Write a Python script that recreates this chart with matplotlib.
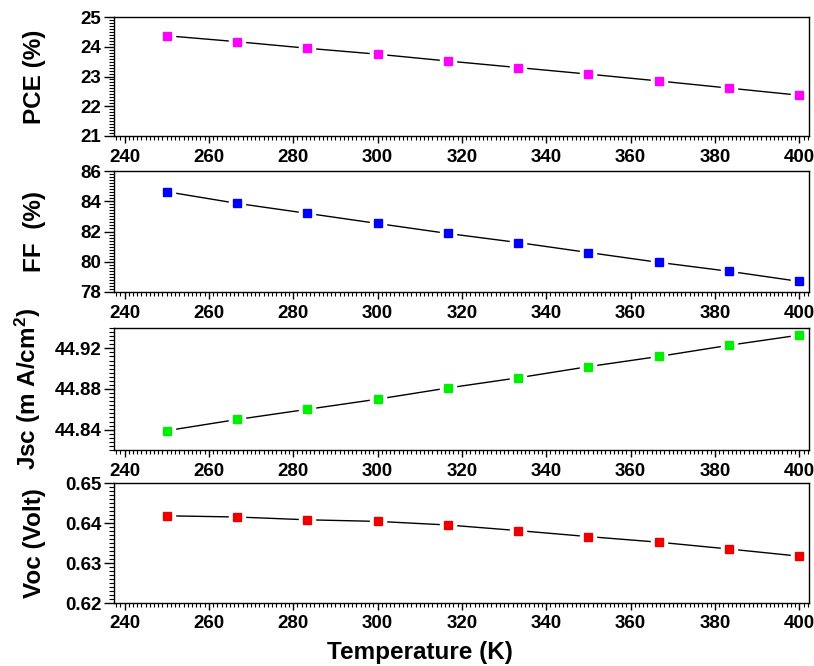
import matplotlib
matplotlib.use("Agg")
import matplotlib.pyplot as plt
from matplotlib.ticker import MultipleLocator, FormatStrFormatter, FixedLocator

plt.rcParams['font.family'] = ['Liberation Sans', 'DejaVu Sans']
plt.rcParams['font.weight'] = 'bold'
plt.rcParams['mathtext.fontset'] = 'custom'
plt.rcParams['mathtext.rm'] = 'Liberation Sans:bold'
plt.rcParams['mathtext.bf'] = 'Liberation Sans:bold'
plt.rcParams['mathtext.it'] = 'Liberation Sans:bold'

# ---- data ----
temperature = [250, 266.67, 283.33, 300, 316.67, 333.33, 350, 366.67, 383.33, 400]
pce = [24.37, 24.17, 23.95, 23.75, 23.52, 23.30, 23.08, 22.85, 22.61, 22.37]
ff = [84.63, 83.86, 83.20, 82.53, 81.87, 81.27, 80.61, 79.96, 79.37, 78.70]
jsc = [44.839, 44.850, 44.860, 44.870, 44.881, 44.891, 44.902, 44.912, 44.923, 44.933]
voc = [0.6418, 0.6415, 0.6408, 0.6404, 0.6395, 0.6381, 0.6366, 0.6352, 0.6335, 0.6317]

x_ticks = [240, 260, 280, 300, 320, 340, 360, 380, 400]
y_labels = ['PCE (%)', 'FF  (%)', r'Jsc (m A/cm$^{\mathbf{2}}$)', 'Voc (Volt)']
x_label = 'Temperature (K)'

panels = [
    dict(y=pce, color='#ff00ff', ylim=(21, 25), ticks=[21, 22, 23, 24, 25], minor=0.1, fmt='%d'),
    dict(y=ff, color='#0000ff', ylim=(78, 86), ticks=[78, 80, 82, 84, 86], minor=0.2, fmt='%d'),
    dict(y=jsc, color='#00ee00', ylim=(44.82, 44.94), ticks=[44.84, 44.88, 44.92], minor=0.004, fmt='%.2f'),
    dict(y=voc, color='#ee0000', ylim=(0.62, 0.65), ticks=[0.62, 0.63, 0.64, 0.65], minor=0.001, fmt='%.2f'),
]

W, H = 814, 666
fig = plt.figure(figsize=(W / 100, H / 100), dpi=100)

left_px, right_px = 114, 809
tops = [17, 171, 328, 483]
bots = [136, 292, 450, 603]

for i, p in enumerate(panels):
    ax = fig.add_axes([left_px / W, 1 - bots[i] / H, (right_px - left_px) / W, (bots[i] - tops[i]) / H])
    ax.plot(temperature, p['y'], color='black', lw=1.0, zorder=1)
    ax.plot(temperature, p['y'], ls='none', marker='s', ms=12, mfc='white', mec='white', zorder=1.5)
    ax.plot(temperature, p['y'], ls='none', marker='s', ms=6, mfc=p['color'], mec=p['color'], zorder=2)
    ax.set_xlim(237.5, 402.3)
    ax.set_ylim(*p['ylim'])
    ax.xaxis.set_major_locator(FixedLocator(x_ticks))
    ax.xaxis.set_minor_locator(MultipleLocator(1))
    ax.yaxis.set_major_locator(FixedLocator(p['ticks']))
    ax.yaxis.set_minor_locator(MultipleLocator(p['minor']))
    ax.yaxis.set_major_formatter(FormatStrFormatter(p['fmt']))
    ax.tick_params(axis='x', which='major', direction='out', length=5, width=1.0, pad=4, labelsize=13.5)
    ax.tick_params(axis='x', which='minor', direction='out', length=3, width=0.8)
    ax.tick_params(axis='y', which='major', direction='out', length=7, width=1.0, pad=2, labelsize=13.5)
    ax.tick_params(axis='y', which='minor', direction='out', length=3.5, width=0.8)
    for lab in ax.get_xticklabels() + ax.get_yticklabels():
        lab.set_fontweight('bold')
    for s in ax.spines.values():
        s.set_linewidth(1.0)
    yc = 1 - (tops[i] + bots[i]) / 2 / H
    xpos = 28 if i == 2 else 34
    fig.text(xpos / W, yc, y_labels[i], rotation=90, ha='center', va='center',
             fontsize=17.5, fontweight='bold')

fig.text(420 / W, 1 - 652 / H, x_label, ha='center', va='center', fontsize=17.5, fontweight='bold')

fig.savefig('out.png', dpi=100)
